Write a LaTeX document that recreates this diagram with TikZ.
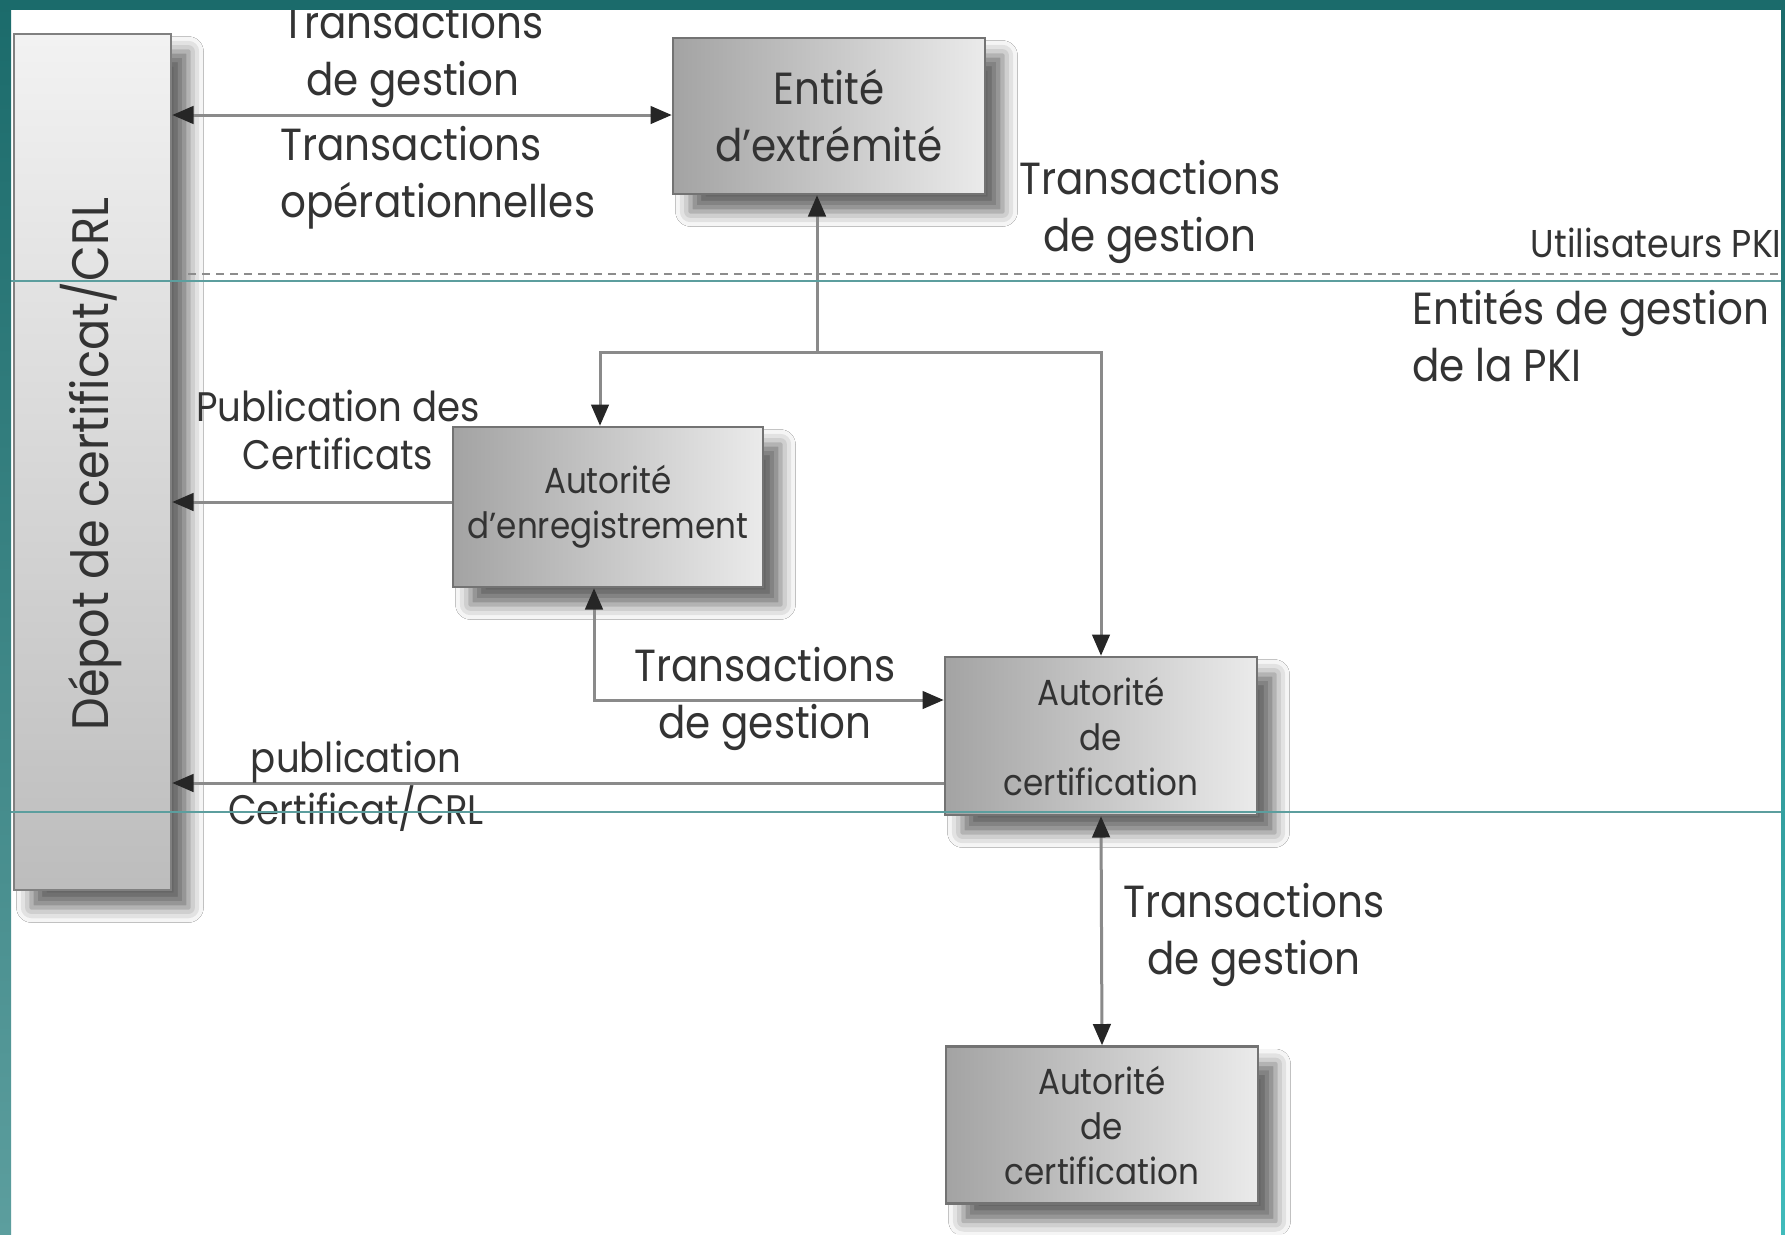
\documentclass[tikz,border=0pt]{standalone}
\usepackage{fontspec}
\setmainfont[FakeStretch=0.9]{Poppins}
\usetikzlibrary{arrows.meta,shadows.blur}

\definecolor{tealdark}{HTML}{1B6B6B}
\definecolor{teallight}{HTML}{5C9E9E}
\definecolor{linkgray}{HTML}{8A8A8A}
\definecolor{txtgray}{HTML}{333333}

\newcommand{\bigfont}{\fontsize{18}{22.8}\selectfont}
\newcommand{\boxfont}{\fontsize{14.5}{18}\selectfont}
\newcommand{\midfont}{\fontsize{16.5}{19.5}\selectfont}

\begin{document}
\begin{tikzpicture}[x=0.4pt, y=-0.4pt, text=txtgray,
  softshadow/.style={blur shadow={shadow xshift=7pt, shadow yshift=-7pt, shadow blur radius=6pt, shadow opacity=60}},
  box/.style={draw=black!55, line width=1pt, left color=black!36, right color=black!8,
    align=center, inner sep=0pt, minimum width=124.8pt, minimum height=62.4pt, font=\boxfont, softshadow},
  link/.style={draw=linkgray, line width=1.2pt},
  lbl/.style={align=center, inner sep=0pt, font=\bigfont},
  >={Triangle[length=8.5pt, width=7pt, color=black!85]}]
  \useasboundingbox (0,0) rectangle (1785,1234);
  \fill[white] (0,0) rectangle (1785,1234);

  % --- repository on the left ---
  \node[draw=black!50, line width=1pt, top color=black!5, bottom color=black!26,
    minimum width=62.8pt, minimum height=342.4pt, inner sep=0pt, softshadow]
    (depot) at (92.5,462) {};
  \node[rotate=90, font=\fontsize{20.5}{24}\selectfont] (depottxt) at (91,464) {Dépot de certificat/CRL};

  % --- entities ---
  \node[box, font=\bigfont, minimum height=62.4pt] (ent) at (829,116) {Entité\\d’extrémité};
  \node[box, minimum width=124pt, minimum height=64pt] (ae)  at (608,507) {Autorité\\d’enregistrement};
  \node[box, minimum height=63.2pt] (ac1) at (1101,736) {Autorité\\de\\certification};
  \node[box, minimum height=62.8pt] (ac2) at (1102,1125) {Autorité\\de\\certification};

  % --- connectors ---
  \coordinate (j) at (817,352);
  \draw[link, <->] (depot.east |- 0,115) -- (ent.west |- 0,115);
  \draw[link, ->] (j) -- (ent.south -| j);
  \draw[link, ->] (j) -| (ae.north -| 600,0);
  \draw[link, ->] (j) -| (ac1.north);
  \draw[link, ->] (ae.west |- 0,502) -- (depot.east |- 0,502);
  \draw[link, <->] (ae.south -| 594,0) |- (ac1.west |- 0,700);
  \draw[link, ->] (ac1.west |- 0,783) -- (depot.east |- 0,783);
  \draw[link, <->] (ac1.south) -- (ac2.north);

  % --- labels ---
  \node[lbl] (lgest1) at (413,56) {Transactions\\de gestion};
  \node[lbl, align=left, anchor=west] (lop) at (280,178) {Transactions\\opérationnelles};
  \node[lbl] (lgest2) at (1150,212) {Transactions\\de gestion};
  \node[lbl, font=\fontsize{15.5}{18}\selectfont, anchor=east] (lusers) at (1782,243) {Utilisateurs PKI};
  \node[lbl, align=left, anchor=west] (lmgmt) at (1412,336) {Entités de gestion\\de la PKI};
  \node[lbl, font=\midfont] (lpub) at (338,430) {Publication des\\Certificats};
  \node[lbl] (lgest3) at (765,699) {Transactions\\de gestion};
  \node[lbl, font=\fontsize{16.5}{20.8}\selectfont] (lcrl) at (356,786) {publication\\Certificat/CRL};
  \node[lbl] (lgest4) at (1254,935) {Transactions\\de gestion};

  % --- separators ---
  \draw[black!45, line width=0.8pt, dash pattern=on 3.2pt off 2.4pt] (188,274) -- (1781,274);
  \draw[teallight, line width=0.5pt] (11,281) -- (1781,281);
  \draw[teallight, line width=0.5pt] (11,812) -- (1781,812);

  % --- frame ---
  \fill[tealdark] (0,0) rectangle (1785,10);
  \shade[top color=tealdark, bottom color=teallight] (0,0) rectangle (11,1234);
  \shade[top color=tealdark, bottom color=teallight!70!cyan] (1781,0) rectangle (1785,1234);
\end{tikzpicture}
\end{document}
